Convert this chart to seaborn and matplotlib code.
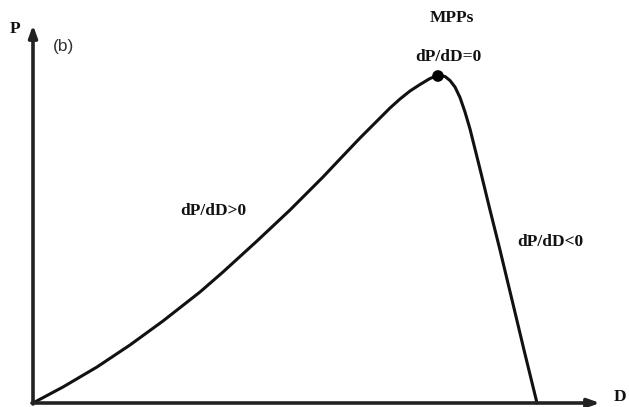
import matplotlib
matplotlib.use("Agg")
import matplotlib.pyplot as plt
import seaborn as sns
import pandas as pd

# Curve values (arbitrary units)
duty = [0, 30, 64, 97, 130, 167, 190, 224, 257, 290, 307, 327, 347, 357, 367, 377, 387, 392, 397,
        402, 407, 412, 417, 422, 427, 432, 437, 447, 457, 467, 480, 491, 504]
power = [0, 16, 36, 58, 82, 111, 131, 162, 193, 226, 244, 265, 285, 295, 304, 312, 318.5, 321.5, 324.5,
         326.5, 327.5, 326.5, 322.5, 316, 305.5, 291, 274, 234, 193, 153, 99, 53, 0]
mpp_d = [405]
mpp_p = [327]

df = pd.DataFrame({"D": duty, "P": power})
mpp = pd.DataFrame({"D": mpp_d, "P": mpp_p})

sns.set_style("white")
serif = ["Liberation Serif", "DejaVu Serif"]

fig = plt.figure(figsize=(6.29, 4.07), dpi=100)
ax = fig.add_axes([0, 0, 1, 1])

sns.lineplot(data=df, x="D", y="P", ax=ax, color="#111111", linewidth=2.2, sort=False,
             solid_joinstyle="round", solid_capstyle="round")
sns.scatterplot(data=mpp, x="D", y="P", ax=ax, color="#000000", s=70, edgecolor="none", zorder=5)

ax.set_xlim(-33, 596)
ax.set_ylim(-4, 403)
for s in ax.spines.values():
    s.set_visible(False)
ax.set_xticks([])
ax.set_yticks([])
ax.set_xlabel("")
ax.set_ylabel("")

arrow = dict(arrowstyle="-|>,head_length=0.7,head_width=0.25", color="#222222", lw=2.6,
             shrinkA=0, shrinkB=0)
ax.annotate("", xy=(567, 0), xytext=(-1, 0), arrowprops=arrow)
ax.annotate("", xy=(0, 378), xytext=(0, -1), arrowprops=arrow)

tk = dict(fontfamily=serif, fontweight="bold", fontsize=12.5, color="#111111",
          ha="center", va="center")
ax.text(-18, 374, "P", **tk)
ax.text(587, 6, "D", **tk)
ax.text(419, 385, "MPPs", **tk)
ax.text(415, 346, "dP/dD=0", **tk)
ax.text(180, 192, "dP/dD>0", **tk)
ax.text(517, 161, "dP/dD<0", **tk)
ax.text(30, 356, "(b)", fontfamily=["Liberation Sans", "DejaVu Sans"], fontsize=12.5,
        color="#333333", ha="center", va="center")

fig.savefig("out.png", dpi=100)
